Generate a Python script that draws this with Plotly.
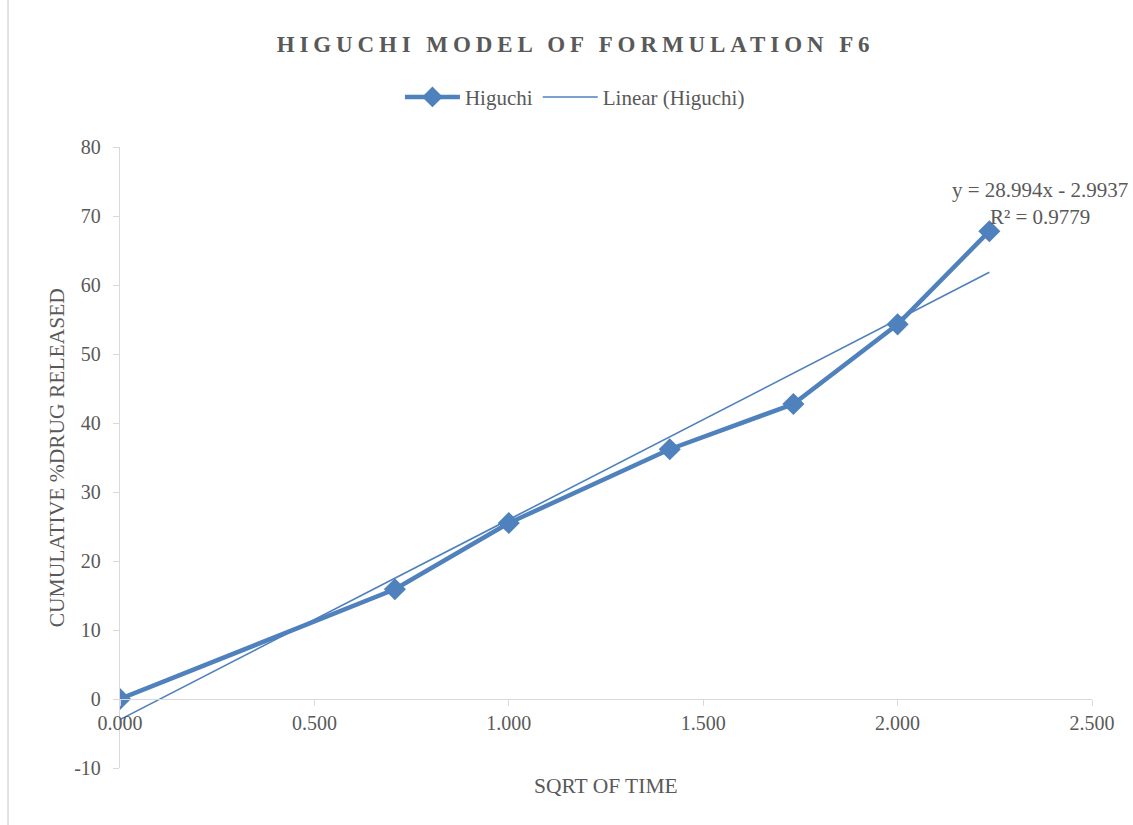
import plotly.graph_objects as go

sqrt_time = [0.0, 0.707, 1.0, 1.414, 1.732, 2.0, 2.236]
cum_release = [0.0, 15.9, 25.5, 36.2, 42.75, 54.3, 67.8]
slope = 28.994
intercept = -2.9937
r2 = 0.9779
x_ticks = [0, 0.5, 1.0, 1.5, 2.0, 2.5]
x_tick_labels = ["0.000", "0.500", "1.000", "1.500", "2.000", "2.500"]
y_ticks = [-10, 0, 10, 20, 30, 40, 50, 60, 70, 80]
y_tick_labels = ["-10", "0", "10", "20", "30", "40", "50", "60", "70", "80"]

BLUE = "#4F81BD"
GREY_TXT = "#595959"
AX = "#D9D9D9"
FONT = "Liberation Serif"

trend_x = [min(sqrt_time), max(sqrt_time)]
trend_y = [slope * v + intercept for v in trend_x]

fig = go.Figure()
fig.add_trace(go.Scatter(
    x=sqrt_time, y=cum_release, mode="lines+markers", name="Higuchi",
    line=dict(color=BLUE, width=4.5),
    marker=dict(symbol="diamond", size=17, color=BLUE),
))
fig.add_trace(go.Scatter(
    x=trend_x, y=trend_y, mode="lines", name="Linear (Higuchi)",
    line=dict(color=BLUE, width=1.6),
))

title_text = '<span style="letter-spacing:4.9px"><b>HIGUCHI MODEL OF FORMULATION F6</b></span>'

fig.update_layout(
    width=1133, height=825,
    margin=dict(l=120, r=41, t=147, b=57, autoexpand=False),
    paper_bgcolor="white", plot_bgcolor="white",
    font=dict(family=FONT, color=GREY_TXT, size=20),
    title=dict(text=title_text, x=0.508, xanchor="center",
               y=0.947, yanchor="middle",
               font=dict(family=FONT, size=23, color=GREY_TXT)),
    legend=dict(orientation="h", x=0.288, xanchor="left", y=1.08, yanchor="middle",
                font=dict(family=FONT, size=21, color=GREY_TXT),
                itemwidth=55, traceorder="normal"),
    xaxis=dict(range=[0, 2.5], tickvals=x_ticks, ticktext=x_tick_labels,
               showgrid=False, zeroline=False, showline=True, linecolor=AX, linewidth=1.3,
               ticks="outside", ticklen=6, tickcolor=AX,
               anchor="free", position=10 / 90,
               tickfont=dict(family=FONT, size=20, color=GREY_TXT)),
    yaxis=dict(range=[-10, 80], tickvals=y_ticks, ticktext=y_tick_labels, domain=[0, 1],
               showgrid=False, zeroline=False, showline=True, linecolor=AX, linewidth=1.3,
               ticks="outside", ticklen=6, tickcolor=AX, ticklabelstandoff=8,
               tickfont=dict(family=FONT, size=20, color=GREY_TXT)),
    annotations=[
        dict(text="SQRT OF TIME", xref="paper", yref="paper", x=0.5, y=-0.029,
             xanchor="center", yanchor="middle", showarrow=False,
             font=dict(family=FONT, size=21.5, color=GREY_TXT)),
        dict(text="CUMULATIVE %DRUG RELEASED", xref="paper", yref="paper", x=-0.065, y=0.5,
             xanchor="center", yanchor="middle", textangle=-90, showarrow=False,
             font=dict(family=FONT, size=21.5, color=GREY_TXT)),
        dict(text=f"y = {slope}x - {abs(intercept)}<br>R² = {r2}", xref="x", yref="y",
             x=2.366, y=71.8, xanchor="center", yanchor="middle", showarrow=False,
             align="center", font=dict(family=FONT, size=21, color=GREY_TXT)),
    ],
    shapes=[dict(type="line", xref="paper", yref="paper", x0=-0.1152, x1=-0.1152,
                 y0=-0.1, y1=1.25, line=dict(color=AX, width=1.5))],
)

fig.write_html("out.html", config={"displayModeBar": False},
               post_script="document.body.style.margin='0';document.body.style.overflow='hidden';")
